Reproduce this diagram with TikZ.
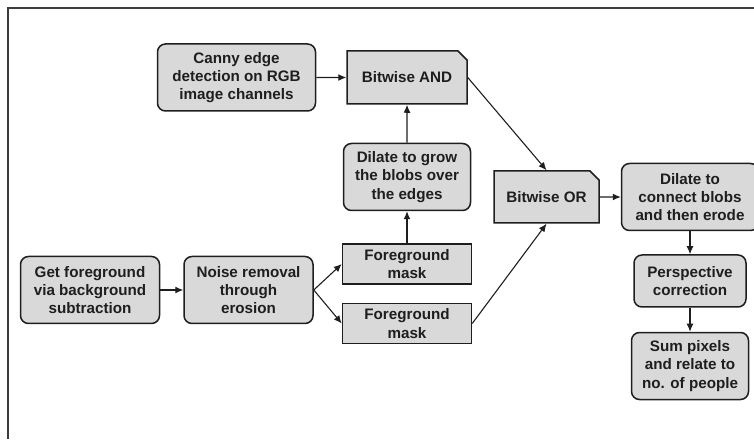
\documentclass[tikz,border=0pt]{standalone}
\usepackage{fontspec}
\setmainfont{Liberation Sans}
\usepackage{tikz}
\usetikzlibrary{positioning, arrows.meta, shapes.misc}

\definecolor{boxfill}{RGB}{217,217,217}
\definecolor{boxline}{RGB}{30,30,30}
\definecolor{frameline}{RGB}{60,60,60}
\newcommand{\boxfont}{\fontsize{15.2}{18.2}\selectfont\bfseries\color{boxline}}

\tikzset{
  stepbox/.style={draw=boxline, fill=boxfill, line width=1.5pt, rounded corners=8pt,
    align=center, minimum height=67pt, inner sep=2pt, font=\boxfont},
  maskbox/.style={draw=boxline, fill=boxfill, line width=1.5pt, align=center,
    minimum width=129pt, minimum height=40pt, inner sep=2pt, font=\boxfont},
  opbox/.style={chamfered rectangle, chamfered rectangle corners=north east,
    chamfered rectangle xsep=4.5pt, chamfered rectangle ysep=4.5pt,
    draw=boxline, fill=boxfill, line width=1.5pt, align=center, inner sep=2pt, font=\boxfont},
  flow/.style={-{Latex[length=8pt,width=7pt]}, line width=1.1pt, draw=boxline}
}

\begin{document}
\begin{tikzpicture}[x=1pt, y=1pt]
\useasboundingbox (0,0) rectangle (754,439);

% Frame
\draw[frameline, line width=1.5pt] (8,0) -- (8,431) -- (754,431);

% Nodes
\node[stepbox, minimum width=139pt] (getfg) at (90,149) {Get foreground\\via background\\subtraction};
\node[stepbox, minimum width=129pt] (noise) [right=23pt of getfg] {Noise removal\\through\\erosion};
\node[maskbox] (fgmaskA) [right=28pt of noise, yshift=26pt] {Foreground\\mask};
\node[maskbox] (fgmaskB) [below=18pt of fgmaskA] {Foreground\\mask};
\node[stepbox, minimum width=127pt] (dilgrow) [above=32pt of fgmaskA] {Dilate to grow\\the blobs over\\the edges};
\node[opbox, minimum width=120pt, minimum height=53pt] (bitand) [above=38pt of dilgrow] {Bitwise AND};
\node[stepbox, minimum width=158pt] (canny) [left=30pt of bitand] {Canny edge\\detection on RGB\\image channels};
\node[opbox, minimum width=105pt, minimum height=52pt] (bitor) [right=22pt of dilgrow, yshift=-20pt] {Bitwise OR};
\node[stepbox, minimum width=137pt] (dilcon) [right=21pt of bitor] {Dilate to\\connect blobs\\and then erode};
\node[stepbox, minimum width=112pt, minimum height=52pt] (persp) [below=23pt of dilcon] {Perspective\\correction};
\node[stepbox, minimum width=117pt] (sumpix) [below=24pt of persp] {Sum pixels\\and relate to\\no. of people};

% Arrows
\draw[flow] (getfg) -- (noise);
\draw[flow] (noise.east) -- (fgmaskA.west);
\draw[flow] (noise.east) -- (fgmaskB.west);
\draw[flow] (fgmaskA) -- (dilgrow);
\draw[flow] (dilgrow) -- (bitand);
\draw[flow] (canny) -- (bitand);
\draw[flow] (bitand.east) -- (bitor.north);
\draw[flow] (fgmaskB.east) -- (bitor.south);
\draw[flow] (bitor) -- (dilcon);
\draw[flow] (dilcon) -- (persp);
\draw[flow] (persp) -- (sumpix);

\end{tikzpicture}
\end{document}
